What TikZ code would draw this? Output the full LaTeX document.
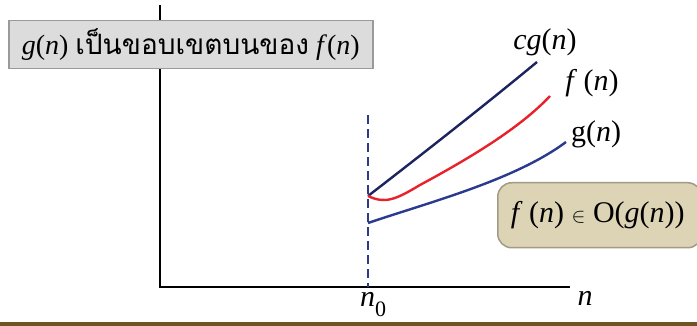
\documentclass[tikz,border=0pt]{standalone}
\usepackage{fontspec}
\setmainfont{Liberation Serif}
\newfontfamily\thaifont[Script=Thai]{Loma}
\usepackage{amssymb}
\definecolor{navyc}{HTML}{1C2460}
\definecolor{bluec}{HTML}{2B3A8E}
\definecolor{redc}{HTML}{E8222A}
\definecolor{boxgray}{HTML}{DCDCDC}
\definecolor{boxedge}{HTML}{9A9A9A}
\definecolor{tanfill}{HTML}{DDD3B5}
\definecolor{tanedge}{HTML}{A29A86}
\definecolor{brownc}{HTML}{6E5424}
\tikzset{
  axisline/.style={line width=2.8pt, black},
  curveline/.style={line width=2.4pt},
  lbl/.style={font=\fontsize{30}{34}\selectfont, inner sep=0pt},
}
\begin{document}
\begin{tikzpicture}[x=1pt,y=-1pt]
\useasboundingbox (0,0) rectangle (697,326);
\fill[white] (0,0) rectangle (697,326);
% brown bottom rule
\fill[brownc] (0,322) rectangle (697,326);
% axes
\coordinate (top) at (160,5);
\coordinate (origin) at (160,287);
\coordinate (xend) at (570,287);
\draw[axisline] (top) -- (origin) -- (xend);
% dashed n0 line
\coordinate (dtop) at (368,115);
\coordinate (dbot) at (368,287);
\draw[bluec, line width=2.5pt, dash pattern=on 9pt off 5pt] (dtop) -- (dbot);
% curves
\coordinate (start) at (368,196);
\coordinate (cgend) at (537,62);
\coordinate (fend) at (550,96);
\coordinate (gstart) at (368,223);
\coordinate (gend) at (566,142);
\draw[curveline, navyc] (start) .. controls (425,152) and (485,105) .. (cgend);
\draw[curveline, redc] (start) .. controls (385,204) and (395,200) .. (420,185) .. controls (470,158) and (520,128) .. (fend);
\draw[curveline, bluec] (gstart) .. controls (430,202) and (515,180) .. (gend);
% labels
\node[lbl, anchor=center] (cglbl) at (545,42) {\textit{cg}(\textit{n})};
\node[lbl, anchor=center] (flbl) at (592,83) {\textit{f\,}\,(\textit{n})};
\node[lbl, anchor=center] (glbl) at (596,134) {g(\textit{n})};
\node[lbl, anchor=center] (nlbl) at (585,298) {\textit{n}};
\node[lbl, anchor=center] (n0lbl) at (373,305) {\textit{n}\raisebox{-10pt}{\fontsize{22}{24}\selectfont 0}};
% top-left box
\node[draw=boxedge, fill=boxgray, line width=1.5pt, minimum width=364pt, minimum height=48pt, inner sep=0pt, anchor=north west] (titlebox) at (8,20) {};
\node[lbl, font=\fontsize{28}{32}\selectfont] (titletext) at (titlebox.center) {\textit{g}(\textit{n}) {\thaifont เป็นขอบเขตบนของ} \textit{f}(\textit{n})};
% formula box
\node[draw=tanedge, fill=tanfill, line width=1.5pt, rounded corners=14pt, minimum width=204pt, minimum height=65pt, inner sep=0pt, anchor=north west] (fbox) at (497,182) {};
\node[lbl] (ftext) at ([xshift=-2pt]fbox.center) {\textit{f\,}\,(\textit{n}) {\fontsize{22}{24}\selectfont$\in$} O(\textit{g}(\textit{n}))};
\end{tikzpicture}
\end{document}
